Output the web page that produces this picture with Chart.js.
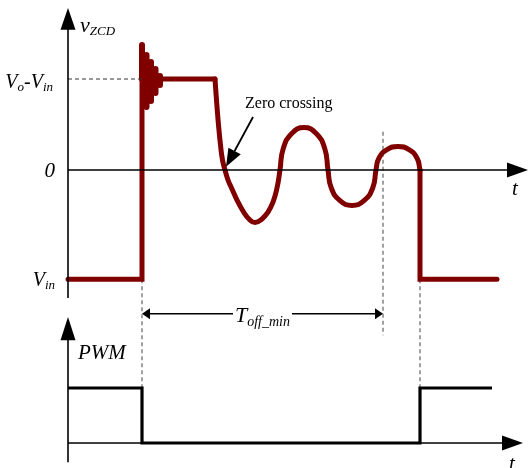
<!DOCTYPE html>
<html>
<head>
<meta charset="utf-8">
<script src="https://cdn.jsdelivr.net/npm/chart.js@4.4.0/dist/chart.umd.min.js"></script>
<style>
html,body{margin:0;padding:0;background:#fff;}
canvas{display:block;}
</style>
</head>
<body>
<canvas id="c" width="528" height="468"></canvas>
<script>
// ---- data (time t in arbitrary units, v_ZCD level with Vo-Vin = 10, Vin = -12; PWM 0/1) ----
const levelValues = [10, 0, -12];
const levelLabels = ['Vo-Vin', '0', 'Vin'];

const edgeT = [7.4, 35.2];          // PWM falling / rising instants
const toffT = [7.4, 31.5];          // T_off_min interval
const toffGuideV = [4.2];           // top of dashed guide at end of T_off_min

const riseT = [0, 7.4, 7.4, 14.7];
const riseV = [-12, -12, 10, 10];

const ringT = [14.7, 14.85, 15.05, 15.25, 15.45, 15.7,
               16.0, 16.4, 16.9, 17.5, 18.1, 18.7,
               19.4, 20.0, 20.5, 20.9, 21.2,
               21.52, 22.4, 23.6, 24.8, 25.68, 26.0,
               26.32, 27.2, 28.4, 29.6, 30.48, 30.8,
               31.09, 31.9, 33.0, 34.1, 34.91, 35.2];
const ringV = [10.0, 7.69, 4.95, 2.75, 1.10, 0,
               -1.10, -2.09, -3.30, -4.51, -5.38, -5.77,
               -5.38, -4.62, -3.52, -1.98, 0,
               2.34, 4.04, 4.67, 4.04, 2.34, 0,
               -1.95, -3.37, -3.90, -3.37, -1.95, 0,
               1.29, 2.24, 2.58, 2.24, 1.29, 0];

const fallT = [35.2, 35.2, 42.9];
const fallV = [0, -12, -12];

const spikeT   = [7.4, 7.85, 8.3, 8.75, 9.2];
const spikeTop = [13.74, 12.64, 11.87, 11.10, 10.33];
const spikeBot = [10.0, 6.92, 7.58, 8.46, 9.34];

const pwmT = [0, 7.4, 7.4, 35.2, 35.2, 42.4];
const pwmV = [1, 1, 0, 0, 1, 1];

const toffArrowP = 2.35;            // height of the T_off_min arrow (PWM axis units)

// ---- helpers ----
const pts = (ts, vs) => ts.map((t, i) => ({x: t, y: vs[i]}));
const spikePts = [];
spikeT.forEach((t, i) => { spikePts.push({x: t, y: spikeTop[i]}, {x: t, y: spikeBot[i]}, {x: t, y: null}); });

const RED = '#800000';
const SERIF = "'Liberation Serif','Times New Roman',serif";

function line(ctx, x1, y1, x2, y2) { ctx.beginPath(); ctx.moveTo(x1, y1); ctx.lineTo(x2, y2); ctx.stroke(); }
function tri(ctx, a, b, c) { ctx.beginPath(); ctx.moveTo(a[0], a[1]); ctx.lineTo(b[0], b[1]); ctx.lineTo(c[0], c[1]); ctx.closePath(); ctx.fill(); }

// draws sequence of [text, size, dy] parts; align 'left', 'center' or 'right' at x
function rich(ctx, parts, x, y, align) {
  let w = 0;
  parts.forEach(p => { ctx.font = 'italic ' + p[1] + 'px ' + SERIF; w += ctx.measureText(p[0]).width; });
  let cx = align === 'right' ? x - w : (align === 'center' ? x - w / 2 : x);
  const start = cx;
  ctx.textAlign = 'left'; ctx.textBaseline = 'alphabetic';
  parts.forEach(p => { ctx.font = 'italic ' + p[1] + 'px ' + SERIF; ctx.fillText(p[0], cx, y + p[2]); cx += ctx.measureText(p[0]).width; });
  return [start, start + w];
}

const diagram = {
  id: 'diagram',
  beforeDatasetsDraw(chart) {
    const {ctx} = chart;
    const X = v => chart.scales.x.getPixelForValue(v);
    const YV = v => chart.scales.yV.getPixelForValue(v);
    const YP = v => chart.scales.yP.getPixelForValue(v);
    ctx.save();
    ctx.setLineDash([4, 3]);
    ctx.strokeStyle = '#555';
    ctx.lineWidth = 1.1;
    edgeT.forEach(t => line(ctx, X(t), YV(levelValues[2]), X(t), YP(1)));
    line(ctx, X(toffT[1]), YV(toffGuideV[0]), X(toffT[1]), YP(1.96));
    ctx.restore();
  },
  afterDatasetsDraw(chart) {
    const {ctx} = chart;
    const X = v => chart.scales.x.getPixelForValue(v);
    const YV = v => chart.scales.yV.getPixelForValue(v);
    const YP = v => chart.scales.yP.getPixelForValue(v);
    ctx.save();
    ctx.strokeStyle = '#000'; ctx.fillStyle = '#000'; ctx.lineWidth = 1.6;
    const x0 = X(0);
    // top axes
    line(ctx, x0, YV(-14.07), x0, YV(15.6));
    tri(ctx, [x0, YV(17.8)], [x0 - 7.5, YV(15.4)], [x0 + 7.5, YV(15.4)]);
    line(ctx, x0, YV(0), X(44.2), YV(0));
    tri(ctx, [X(46.0), YV(0)], [X(43.9), YV(0) - 7.5], [X(43.9), YV(0) + 7.5]);
    // bottom axes
    line(ctx, x0, YP(-0.35), x0, YP(1.95));
    tri(ctx, [x0, YP(2.29)], [x0 - 7.5, YP(1.87)], [x0 + 7.5, YP(1.87)]);
    line(ctx, x0, YP(0), X(43.6), YP(0));
    tri(ctx, [X(45.5), YP(0)], [X(43.4), YP(0) - 7.5], [X(43.4), YP(0) + 7.5]);

    // labels
    ctx.fillStyle = '#000';
    rich(ctx, [['v', 22, 0], ['ZCD', 13, 3]], X(1.2), YV(15.16), 'left');
    rich(ctx, [['V', 20, 0], ['o', 13, 3], ['-', 20, 0], ['V', 20, 0], ['in', 13, 3]], X(-1.5), YV(levelValues[0]) + 9, 'right');
    rich(ctx, [['0', 21, 0]], X(-1.3), YV(levelValues[1]) + 7, 'right');
    rich(ctx, [['V', 20, 0], ['in', 13, 3]], X(-1.3), YV(levelValues[2]) + 7, 'right');
    rich(ctx, [['t', 21, 0]], X(44.4), YV(0) + 25, 'left');
    rich(ctx, [['t', 21, 0]], X(44.1), YP(0) + 27, 'left');
    rich(ctx, [['PWM', 21, 0]], X(1.0), YP(1.0) - 29, 'left');

    // T_off_min arrow
    const ay = YP(toffArrowP);
    const xl = X(toffT[0]), xr = X(toffT[1]);
    const span = rich(ctx, [['T', 22, 0], ['off_min', 14, 4]], (xl + xr) / 2, ay + 8, 'center');
    ctx.lineWidth = 1.6;
    line(ctx, xl + 4, ay, span[0] - 2, ay);
    line(ctx, span[1] + 2, ay, xr - 4, ay);
    tri(ctx, [xl, ay], [xl + 8, ay - 5.5], [xl + 8, ay + 5.5]);
    tri(ctx, [xr, ay], [xr - 8, ay - 5.5], [xr - 8, ay + 5.5]);

    // Zero crossing annotation
    ctx.font = '16px ' + SERIF;
    ctx.textAlign = 'left'; ctx.textBaseline = 'alphabetic';
    ctx.fillText('Zero crossing', X(17.7), YV(6.8));
    const sx = X(18.5), sy = YV(5.82), tx = X(15.8), ty = YV(0.35);
    const ang = Math.atan2(ty - sy, tx - sx);
    const hl = 18, hw = 7;
    const bx = tx - hl * Math.cos(ang), by = ty - hl * Math.sin(ang);
    ctx.lineWidth = 1.8;
    line(ctx, sx, sy, bx, by);
    tri(ctx, [tx, ty], [bx + hw * Math.sin(ang), by - hw * Math.cos(ang)], [bx - hw * Math.sin(ang), by + hw * Math.cos(ang)]);
    ctx.restore();
  }
};

new Chart(document.getElementById('c'), {
  type: 'scatter',
  data: {
    datasets: [
      {data: pts([0, toffT[0]], [levelValues[0], levelValues[0]]), yAxisID: 'yV', showLine: true, pointRadius: 0,
       borderColor: '#333', borderWidth: 1.1, borderDash: [4, 3]},
      {data: pts(riseT, riseV), yAxisID: 'yV', showLine: true, pointRadius: 0, borderColor: RED, borderWidth: 5,
       borderCapStyle: 'round', borderJoinStyle: 'miter'},
      {data: spikePts, yAxisID: 'yV', showLine: true, spanGaps: false, pointRadius: 0, borderColor: RED, borderWidth: 6,
       borderCapStyle: 'round'},
      {data: pts(ringT, ringV), yAxisID: 'yV', showLine: true, pointRadius: 0, borderColor: RED, borderWidth: 5,
       tension: 0.5, borderCapStyle: 'round', borderJoinStyle: 'round'},
      {data: pts(fallT, fallV), yAxisID: 'yV', showLine: true, pointRadius: 0, borderColor: RED, borderWidth: 5,
       borderCapStyle: 'round', borderJoinStyle: 'miter'},
      {data: pts(pwmT, pwmV), yAxisID: 'yP', showLine: true, pointRadius: 0, borderColor: '#000', borderWidth: 3.2,
       borderCapStyle: 'butt', borderJoinStyle: 'miter'}
    ]
  },
  options: {
    responsive: false,
    animation: false,
    events: [],
    layout: {padding: 0},
    plugins: {legend: {display: false}, tooltip: {enabled: false}},
    scales: {
      x: {type: 'linear', min: -6.8, max: 46.0, display: false},
      yV: {type: 'linear', min: -32.75, max: 18.68, display: false},
      yP: {type: 'linear', min: -0.4545, max: 8.0545, display: false}
    }
  },
  plugins: [diagram]
});
</script>
</body>
</html>
